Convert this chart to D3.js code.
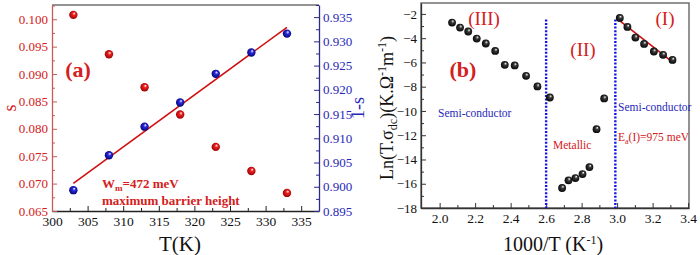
<!DOCTYPE html>
<html>
<head>
<meta charset="utf-8">
<script src="https://cdn.jsdelivr.net/npm/d3@7"></script>
<style>
  html, body { margin: 0; padding: 0; background: #fff; }
</style>
</head>
<body>
<svg id="chart" width="700" height="255"></svg>
<script>
// Panel (a): exponent s and 1-s versus temperature
const tempA = [303, 308, 313, 318, 323, 328, 333];
const sVals = [0.1008, 0.0936, 0.0876, 0.0826, 0.0767, 0.0723, 0.0683];
const oneMinusS = [0.8993, 0.9065, 0.9124, 0.9174, 0.9233, 0.9277, 0.9316];
const fitA = [[303, 0.9007], [333, 0.9329]];

// Panel (b): Ln(T.sigma_dc) versus 1000/T
const invT = [2.070, 2.115, 2.161, 2.209, 2.260, 2.313, 2.367, 2.423, 2.487, 2.551, 2.621,
  2.690, 2.726, 2.765, 2.805, 2.844, 2.884, 2.927,
  3.015, 3.058, 3.103, 3.152, 3.207, 3.259, 3.312];
const lnSigma = [-2.71, -3.13, -3.45, -4.03, -4.44, -5.05, -6.20, -6.25, -7.10, -7.98, -8.89,
  -16.35, -15.72, -15.53, -15.20, -14.63, -11.50, -8.97,
  -2.33, -3.07, -3.95, -4.47, -5.10, -5.37, -5.79];
const fitB = [[3.01, -2.52], [3.32, -6.05]];
const dividers = [2.6, 2.99];

const serif = '"Liberation Serif", "Times New Roman", serif';
const svg = d3.select('#chart').style('font-family', serif);
const defs = svg.append('defs');

function ballGradient(id, base, dark) {
  const g = defs.append('radialGradient').attr('id', id)
    .attr('cx', '50%').attr('cy', '50%').attr('r', '55%')
    .attr('fx', '62%').attr('fy', '30%');
  g.append('stop').attr('offset', '0%').attr('stop-color', '#fff');
  g.append('stop').attr('offset', '35%').attr('stop-color', base);
  g.append('stop').attr('offset', '100%').attr('stop-color', dark);
}
ballGradient('ballRed', '#f02020', '#900000');
ballGradient('ballBlue', '#2a2ae0', '#00006a');
ballGradient('ballBlack', '#3a3a3a', '#000');

const redTxt = '#d42020';
const blueTxt = '#2828b8';

function styleAxis(g, color, textColor, size) {
  g.attr('font-family', null).attr('font-size', null);
  g.select('.domain').attr('stroke', color).attr('stroke-width', 1.3);
  g.selectAll('.tick line').attr('stroke', color);
  g.selectAll('.tick text').attr('fill', textColor)
    .style('font-family', serif).style('font-size', size + 'px');
}
function minor(g, color) {
  g.select('.domain').remove();
  g.selectAll('line').attr('stroke', color);
}

// ---------- panel (a) ----------
const a = { left: 52, right: 319, top: 5, bottom: 211 };
const xA = d3.scaleLinear().domain([300, 337.5]).range([a.left, a.right]);
const yS = d3.scaleLinear().domain([0.065, 0.1026]).range([a.bottom, a.top]);
const y1S = d3.scaleLinear().domain([0.895, 0.9375]).range([a.bottom, a.top]);

const gA = svg.append('g');

// frame: top border
gA.append('line').attr('x1', a.left).attr('x2', a.right).attr('y1', a.top).attr('y2', a.top)
  .attr('stroke', '#707070').attr('stroke-width', 1.5);

// bottom axis
const gxA = gA.append('g').attr('transform', `translate(0,${a.bottom})`)
  .call(d3.axisBottom(xA).tickValues(d3.range(300, 336, 5)).tickSize(-5).tickPadding(5).tickSizeOuter(0));
styleAxis(gxA, '#222', '#111', 13.5);
gA.append('g').attr('transform', `translate(0,${a.bottom})`)
  .call(d3.axisBottom(xA).tickValues(d3.range(302.5, 337, 5)).tickSize(-3).tickFormat('').tickSizeOuter(0))
  .call(minor, '#222');

// left axis (s)
const gyA = gA.append('g').attr('transform', `translate(${a.left},0)`)
  .call(d3.axisLeft(yS).tickValues(d3.range(0.065, 0.1001, 0.005)).tickFormat(d3.format('.3f'))
    .tickSize(-5).tickPadding(4).tickSizeOuter(0));
styleAxis(gyA, '#c85a5a', redTxt, 13);
gA.append('g').attr('transform', `translate(${a.left},0)`)
  .call(d3.axisLeft(yS).tickValues(d3.range(0.0675, 0.1026, 0.005)).tickSize(-3).tickFormat('').tickSizeOuter(0))
  .call(minor, '#c85a5a');

// right axis (1-s)
const gy1A = gA.append('g').attr('transform', `translate(${a.right},0)`)
  .call(d3.axisRight(y1S).tickValues(d3.range(0.895, 0.9351, 0.005)).tickFormat(d3.format('.3f'))
    .tickSize(-5).tickPadding(4).tickSizeOuter(0));
styleAxis(gy1A, '#2a2a8a', blueTxt, 13);
gA.append('g').attr('transform', `translate(${a.right},0)`)
  .call(d3.axisRight(y1S).tickValues(d3.range(0.8975, 0.9375, 0.005)).tickSize(-3).tickFormat('').tickSizeOuter(0))
  .call(minor, '#2a2a8a');

// fit line
gA.append('path').datum(fitA)
  .attr('d', d3.line().x(d => xA(d[0])).y(d => y1S(d[1])))
  .attr('stroke', '#d01010').attr('stroke-width', 1.6).attr('fill', 'none');

// points
gA.selectAll('circle.s').data(tempA).join('circle').attr('class', 's')
  .attr('cx', d => xA(d)).attr('cy', (d, i) => yS(sVals[i])).attr('r', 4.2)
  .attr('fill', 'url(#ballRed)');
gA.selectAll('circle.ms').data(tempA).join('circle').attr('class', 'ms')
  .attr('cx', d => xA(d)).attr('cy', (d, i) => y1S(oneMinusS[i])).attr('r', 4.2)
  .attr('fill', 'url(#ballBlue)');

// texts
gA.append('text').attr('x', 78).attr('y', 77).attr('text-anchor', 'middle')
  .attr('fill', redTxt).style('font-size', '22px').style('font-weight', 'bold').text('(a)');
const wm = gA.append('text').attr('x', 102).attr('y', 188).attr('fill', redTxt)
  .style('font-size', '13px').style('font-weight', 'bold');
wm.append('tspan').text('W');
wm.append('tspan').attr('dy', 3).style('font-size', '9px').text('m');
wm.append('tspan').attr('dy', -3).text('=472 meV');
gA.append('text').attr('x', 102).attr('y', 205).attr('fill', redTxt)
  .style('font-size', '13px').style('font-weight', 'bold').text('maximum barrier height');

gA.append('text').attr('x', 180).attr('y', 251).attr('text-anchor', 'middle')
  .attr('fill', '#111').style('font-size', '21px').text('T(K)');
gA.append('text').attr('transform', 'translate(16,108) rotate(-90)').attr('text-anchor', 'middle')
  .attr('fill', redTxt).style('font-size', '18px').text('s');
gA.append('text').attr('transform', 'translate(364,108) rotate(-90)').attr('text-anchor', 'middle')
  .attr('fill', blueTxt).style('font-size', '18px').text('1-s');

// ---------- panel (b) ----------
const b = { left: 421, right: 689, top: 3, bottom: 208 };
const xB = d3.scaleLinear().domain([1.895, 3.405]).range([b.left, b.right]);
const yB = d3.scaleLinear().domain([-18, -1.1]).range([b.bottom, b.top]);

const gB = svg.append('g');
gB.append('rect').attr('x', b.left).attr('y', b.top)
  .attr('width', b.right - b.left).attr('height', b.bottom - b.top)
  .attr('fill', 'none').attr('stroke', '#666').attr('stroke-width', 1.4);

const gxB = gB.append('g').attr('transform', `translate(0,${b.bottom})`)
  .call(d3.axisBottom(xB).tickValues(d3.range(2.0, 3.41, 0.2)).tickFormat(d3.format('.1f'))
    .tickSize(-5).tickPadding(5).tickSizeOuter(0));
styleAxis(gxB, '#333', '#111', 13.5);
gB.append('g').attr('transform', `translate(0,${b.bottom})`)
  .call(d3.axisBottom(xB).tickValues(d3.range(2.1, 3.4, 0.2)).tickSize(-3).tickFormat('').tickSizeOuter(0))
  .call(minor, '#333');

const gyB = gB.append('g').attr('transform', `translate(${b.left},0)`)
  .call(d3.axisLeft(yB).tickValues(d3.range(-18, -1, 2)).tickSize(-5).tickPadding(4).tickSizeOuter(0));
styleAxis(gyB, '#333', '#111', 13);
gB.append('g').attr('transform', `translate(${b.left},0)`)
  .call(d3.axisLeft(yB).tickValues(d3.range(-17, -1, 2)).tickSize(-3).tickFormat('').tickSizeOuter(0))
  .call(minor, '#333');

// dotted region dividers
gB.selectAll('line.div').data(dividers).join('line').attr('class', 'div')
  .attr('x1', d => xB(d)).attr('x2', d => xB(d))
  .attr('y1', yB(-2.45)).attr('y2', yB(-18))
  .attr('stroke', '#1414e6').attr('stroke-width', 2.4).attr('stroke-dasharray', '2,1.6');

// fit line
gB.append('path').datum(fitB)
  .attr('d', d3.line().x(d => xB(d[0])).y(d => yB(d[1])))
  .attr('stroke', '#d01010').attr('stroke-width', 1.6).attr('fill', 'none');

gB.selectAll('circle.pt').data(invT).join('circle').attr('class', 'pt')
  .attr('cx', d => xB(d)).attr('cy', (d, i) => yB(lnSigma[i])).attr('r', 3.9)
  .attr('fill', 'url(#ballBlack)');

// region labels
function label(x, y, txt, color, size, weight) {
  return gB.append('text').attr('x', x).attr('y', y).attr('fill', color)
    .style('font-size', size + 'px').style('font-weight', weight || 'normal').text(txt);
}
label(484, 25, '(III)', redTxt, 19).attr('text-anchor', 'middle');
label(583, 56, '(II)', redTxt, 19).attr('text-anchor', 'middle');
label(665, 25, '(I)', redTxt, 19).attr('text-anchor', 'middle');
label(463, 77, '(b)', redTxt, 22, 'bold').attr('text-anchor', 'middle');
label(438, 117, 'Semi-conductor', blueTxt, 11.5);
label(618, 111, 'Semi-conductor', blueTxt, 11.5);
label(553, 149, 'Metallic', redTxt, 11.5);
const ea = label(618, 141, 'E', redTxt, 11.5);
ea.append('tspan').attr('dy', 2.5).style('font-size', '8px').text('a');
ea.append('tspan').attr('dy', -2.5).text('(I)=975 meV');

// axis titles
gB.append('text').attr('x', 553).attr('y', 251).attr('text-anchor', 'middle')
  .attr('fill', '#111').style('font-size', '20px')
  .call(t => {
    t.append('tspan').text('1000/T (K');
    t.append('tspan').attr('dy', -7).style('font-size', '12px').text('-1');
    t.append('tspan').attr('dy', 7).text(')');
  });
gB.append('text').attr('transform', 'translate(393,108) rotate(-90)').attr('text-anchor', 'middle')
  .attr('fill', '#111').style('font-size', '18px')
  .call(t => {
    t.append('tspan').text('Ln(T.σ');
    t.append('tspan').attr('dy', 4).style('font-size', '12px').text('dc');
    t.append('tspan').attr('dy', -4).text(')(K.Ω');
    t.append('tspan').attr('dy', -7).style('font-size', '12px').text('-1');
    t.append('tspan').attr('dy', 7).text('m');
    t.append('tspan').attr('dy', -7).style('font-size', '12px').text('-1');
    t.append('tspan').attr('dy', 7).text(')');
  });
</script>
</body>
</html>
